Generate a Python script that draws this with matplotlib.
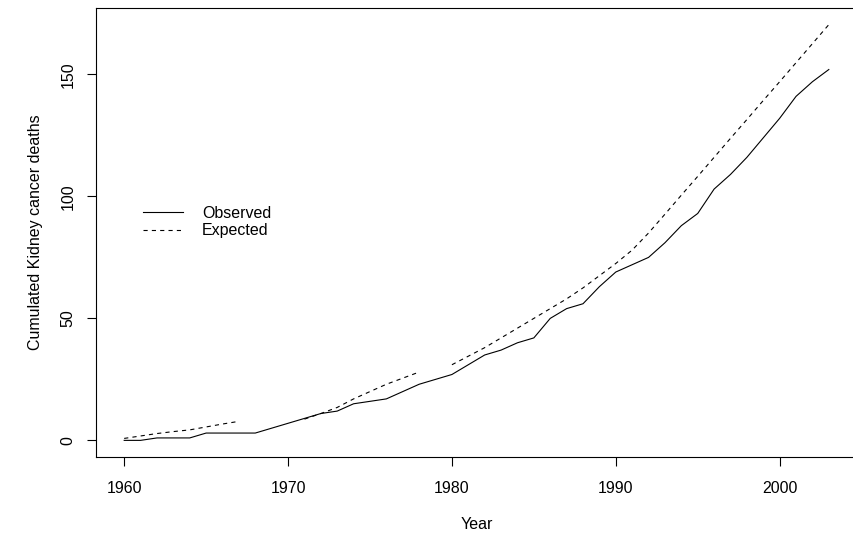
import numpy as np
import matplotlib
matplotlib.use("Agg")
import matplotlib.pyplot as plt

plt.rcParams["font.family"] = ["Liberation Sans", "DejaVu Sans"]
plt.rcParams["lines.scale_dashes"] = False

# years of follow-up
years = np.arange(1960, 2004)

# cumulated observed deaths
observed = [0, 0, 1, 1, 1, 3, 3, 3, 3, 5,
            7, 9, 11, 12, 15, 16, 17, 20, 23, 25,
            27, 31, 35, 37, 40, 42, 50, 54, 56, 63,
            69, 72, 75, 81, 88, 93, 103, 109, 116, 124,
            132, 141, 147, 152]

# cumulated expected deaths (missing years left as nan)
nan = np.nan
expected = [0.8, 1.8, 2.8, 3.6, 4.3, 5.5, 6.7, 7.8, nan, nan,
            nan, 8.7, 11, 13.5, 17, 20, 23, 25.5, 28, nan,
            31, 34.5, 38, 42, 46, 50, 54, 58, 62.5, 67.5,
            72.5, 78, 85, 92.7, 100.5, 108.2, 116, 123.8, 131.5, 139.3,
            147, 154.8, 162.6, 170.4]

W, H = 854, 534
fig = plt.figure(figsize=(W / 100, H / 100), dpi=100)
# plot box: left 96, right ~857 (just past the image), top 8, bottom 457
ax = fig.add_axes([96 / W, 1 - 457 / H, (857 - 96) / W, (457 - 8) / H])

ax.plot(years, observed, color="black", lw=0.8, label="Observed")
ax.plot(years, expected, color="black", lw=0.8, linestyle=(0, (3, 3)), label="Expected")

pad_x = 0.04 * (2003 - 1960)
ax.set_xlim(1960 - pad_x, 2003 + pad_x)
ax.set_ylim(-0.04 * 170.4, 170.4 * 1.04)
ax.set_xticks([1960, 1970, 1980, 1990, 2000])
ax.set_yticks([0, 50, 100, 150])
ax.set_yticklabels(["0", "50", "100", "150"], rotation=90, va="center")

for s in ax.spines.values():
    s.set_linewidth(0.8)
ax.tick_params(direction="out", length=6.5, width=0.8, labelsize=11.5, color="black")
ax.tick_params(axis="x", pad=11)
ax.tick_params(axis="y", pad=8)

ax.set_xlabel("Year", fontsize=11.5, labelpad=15)
ax.set_ylabel("Cumulated Kidney cancer deaths", fontsize=11.5, labelpad=13)

ax.legend(loc="center left", bbox_to_anchor=(143 / W, 1 - 222 / H),
          bbox_transform=fig.transFigure, frameon=False, fontsize=11.5,
          handlelength=2.5, handletextpad=1.2, borderpad=0, borderaxespad=0,
          labelspacing=0.15)

fig.savefig("out.png", dpi=100)
